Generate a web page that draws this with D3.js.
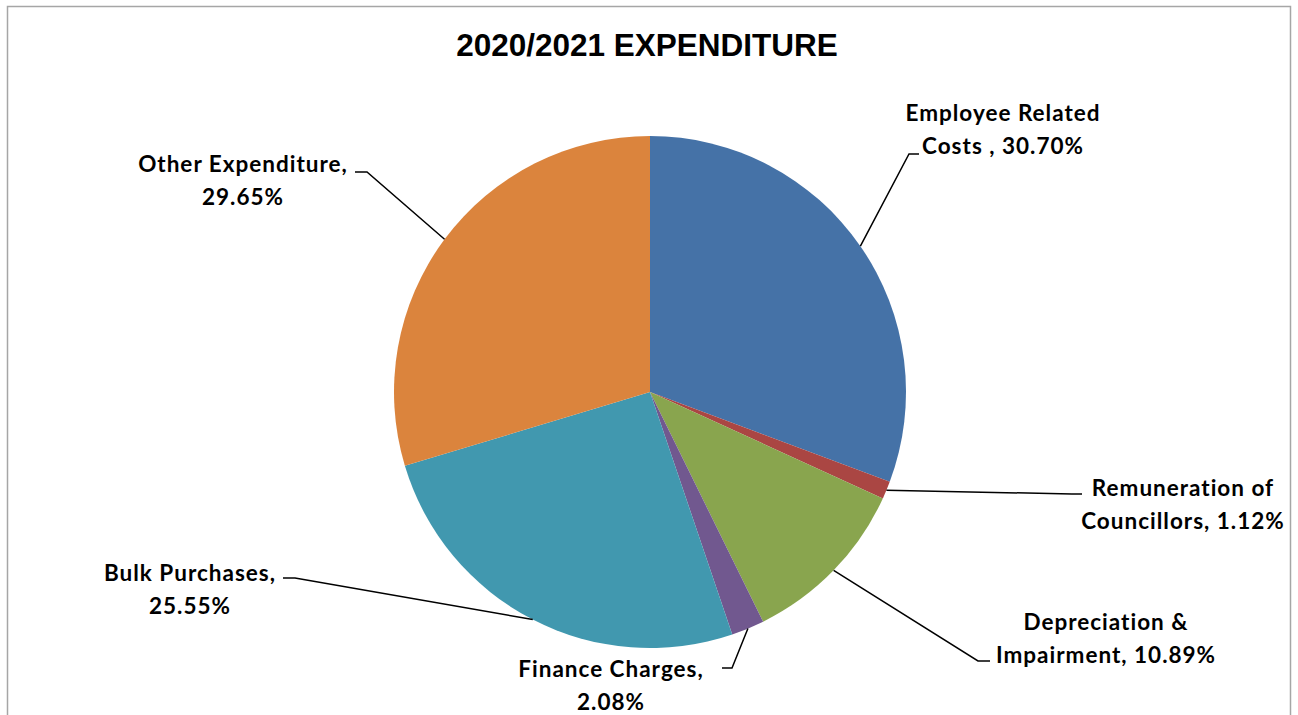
<!DOCTYPE html>
<html>
<head>
<meta charset="utf-8">
<script src="https://cdn.jsdelivr.net/npm/d3@7"></script>
<style>
  html, body { margin: 0; padding: 0; background: #fff; }
  svg { display: block; }
</style>
</head>
<body>
<svg id="chart" width="1298" height="715"></svg>
<script>
// ---- data ----
const title = "2020/2021 EXPENDITURE";
const categories = [
  "Employee Related Costs ",
  "Remuneration of Councillors",
  "Depreciation & Impairment",
  "Finance Charges",
  "Bulk Purchases",
  "Other Expenditure"
];
const values = [30.70, 1.12, 10.89, 2.08, 25.55, 29.65];
const colors = ["#4572A7", "#AA4643", "#89A54E", "#71588F", "#4198AF", "#DB843D"];

// ---- layout ----
const cx = 650, cy = 392, radius = 256;
const firstLineWords = [2, 2, 2, 2, 2, 2];
const labelPos = [
  { x: 1003, y: 112, elbow: [909, 154], end: [919, 154] },
  { x: 1183, y: 487, elbow: [1072, 494], end: [1082, 494] },
  { x: 1106, y: 621, elbow: [978, 661], end: [990, 661] },
  { x: 611,  y: 668, elbow: [732, 668], end: [722, 668] },
  { x: 190,  y: 572, elbow: [295, 578], end: [283, 578] },
  { x: 243,  y: 163, elbow: [367, 172], end: [355, 172] }
];
const lineGap = 33;

const svg = d3.select("#chart");

// outer chart border
svg.append("rect")
  .attr("x", 7.5).attr("y", 6.5)
  .attr("width", 1283).attr("height", 730)
  .attr("fill", "#fff")
  .attr("stroke", "#a6a6a6")
  .attr("stroke-width", 1.5);

// title
svg.append("text")
  .attr("x", 647).attr("y", 45)
  .attr("text-anchor", "middle")
  .attr("dominant-baseline", "central")
  .attr("font-family", "'Liberation Sans', Arial, sans-serif")
  .attr("font-weight", "bold")
  .attr("font-size", 31.5)
  .attr("fill", "#000")
  .text(title);

const data = categories.map((c, i) => ({ name: c, value: values[i], i }));

const pie = d3.pie().sort(null).value(d => d.value);
const arcs = pie(data);
const arc = d3.arc().innerRadius(0).outerRadius(radius);

const g = svg.append("g").attr("transform", `translate(${cx},${cy})`);
g.selectAll("path.slice")
  .data(arcs)
  .enter().append("path")
  .attr("class", "slice")
  .attr("d", arc)
  .attr("fill", d => colors[d.data.i])
  .attr("stroke", "none");

// leader lines
svg.append("g").selectAll("polyline")
  .data(arcs)
  .enter().append("polyline")
  .attr("points", d => {
    const mid = (d.startAngle + d.endAngle) / 2;
    const px = cx + radius * Math.sin(mid);
    const py = cy - radius * Math.cos(mid);
    const lp = labelPos[d.data.i];
    return [[px, py], lp.elbow, lp.end].map(p => p.join(",")).join(" ");
  })
  .attr("fill", "none")
  .attr("stroke", "#000")
  .attr("stroke-width", 1.5);

// labels
const labels = svg.append("g")
  .attr("font-family", "Lato, 'Noto Sans', sans-serif")
  .attr("font-weight", "bold")
  .attr("font-size", 22.5)
  .attr("letter-spacing", 1)
  .attr("fill", "#000");

data.forEach(d => {
  const full = d.name + ", " + d.value.toFixed(2) + "%";
  const words = full.split(" ");
  const n = firstLineWords[d.i];
  const lines = [words.slice(0, n).join(" "), words.slice(n).join(" ")];
  const lp = labelPos[d.i];
  const t = labels.append("text")
    .attr("text-anchor", "middle")
    .attr("dominant-baseline", "central");
  lines.forEach((ln, k) => {
    t.append("tspan")
      .attr("x", lp.x)
      .attr("y", lp.y + k * lineGap)
      .text(ln);
  });
});
</script>
</body>
</html>
